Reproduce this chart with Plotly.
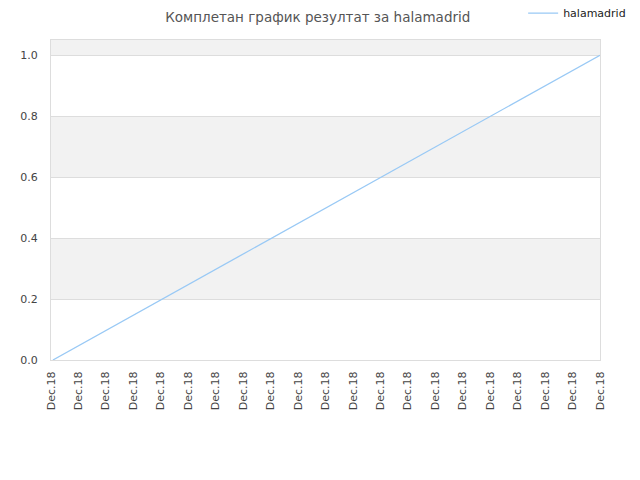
import plotly.graph_objects as go

# x axis labels (21 ticks, all the same day)
tick_labels = ["Dec.18"] * 21
tick_pos = list(range(21))

# series
series_name = "halamadrid"
x_vals = [0.07, 20]
y_vals = [0.0, 1.0]

# alternating background bands
bands = [(0.2, 0.4), (0.6, 0.8), (1.0, 1.05)]

fig = go.Figure()
fig.add_trace(go.Scatter(x=x_vals, y=y_vals, mode="lines", name=series_name,
                         line=dict(color="#99c9f5", width=1.3)))

for lo, hi in bands:
    fig.add_shape(type="rect", xref="paper", yref="y", x0=0, x1=1, y0=lo, y1=hi,
                  fillcolor="#f2f2f2", line_width=0, layer="below")

# the page body adds an 8px offset, so margins are shifted up/left by 8
fig.update_layout(
    width=640, height=480,
    margin=dict(l=43, r=48, t=32, b=128, autoexpand=False),
    paper_bgcolor="white", plot_bgcolor="white",
    font=dict(family="DejaVu Sans", size=11, color="#444"),
    title=dict(text="Комплетан график резултат за halamadrid", x=0.484, xanchor="center",
               y=0.981, yanchor="middle", font=dict(size=13.5, color="#555")),
    showlegend=True,
    legend=dict(x=0.86, xanchor="left", y=1.084, yanchor="middle",
                bgcolor="rgba(0,0,0,0)", font=dict(size=11, color="#222")),
    xaxis=dict(range=[0, 20], tickvals=tick_pos, ticktext=tick_labels, tickangle=-90,
               showgrid=False, zeroline=False, showline=True, linecolor="#ddd",
               mirror=True, ticks="", automargin=False, ticklabelstandoff=6),
    yaxis=dict(range=[0, 1.05], tickvals=[0, 0.2, 0.4, 0.6, 0.8, 1.0],
               tickformat=".1f", showgrid=True, gridcolor="#ddd", zeroline=False,
               showline=True, linecolor="#ddd", mirror=True, ticks="",
               automargin=False, ticklabelstandoff=10),
)

fig.write_html("out.html")
